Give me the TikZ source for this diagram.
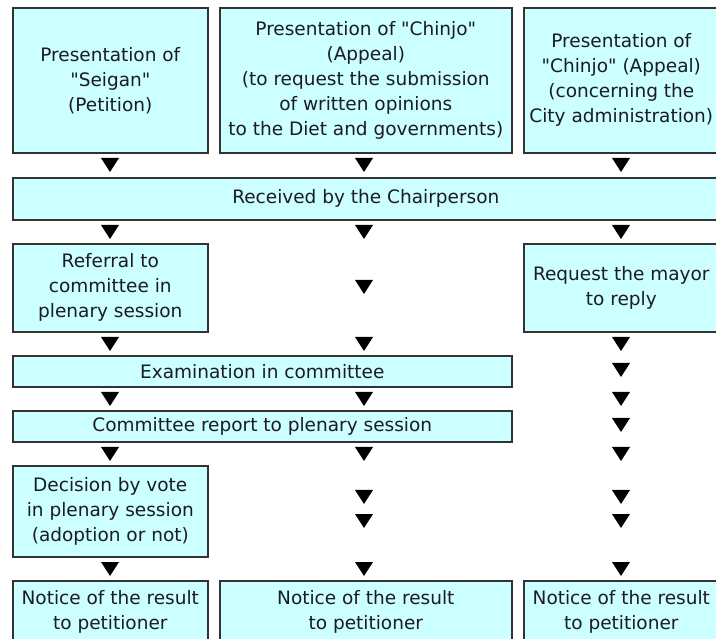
\documentclass[tikz,border=0pt]{standalone}
\usepackage{fontspec}
\setmainfont{DejaVu Sans}[Ligatures=TeXOff]
\definecolor{boxfill}{HTML}{CCFFFF}
\definecolor{boxline}{HTML}{333333}
\definecolor{txt}{HTML}{1A1A2A}
\tikzset{
  box/.style={draw=boxline, line width=1.6pt, fill=boxfill, inner sep=0pt,
    align=center, anchor=north west, text=txt,
    font=\fontsize{18.5}{25}\selectfont},
  downtri/.pic={\fill[black] (-9,0) -- (9,0) -- (0,14) -- cycle;}
}
\begin{document}
\begin{tikzpicture}[x=1pt,y=-1pt]
\useasboundingbox (0,0) rectangle (716,639);
\clip (0,0) rectangle (716,639);
\fill[white] (0,0) rectangle (716,639);
% top row
\node[box, minimum width=195, minimum height=145] (seigan) at (12,7)
  {Presentation of\\"Seigan"\\(Petition)};
\node[box, minimum width=292, minimum height=145] (chinjoA) at (219,7)
  {Presentation of "Chinjo"\\(Appeal)\\(to request the submission\\of written opinions\\to the Diet and governments)};
\node[box, minimum width=195, minimum height=145] (chinjoB) at (523,7)
  {Presentation of\\"Chinjo" (Appeal)\\(concerning the\\City administration)};
% received
\node[box, minimum width=706, minimum height=42] (recv) at (12,177)
  {Received by the Chairperson};
% third row
\node[box, minimum width=195, minimum height=88] (refer) at (12,243)
  {Referral to\\committee in\\plenary session};
\node[box, minimum width=195, minimum height=88] (mayor) at (523,243)
  {Request the mayor\\to reply};
% committee
\node[box, minimum width=499, minimum height=31] (exam) at (12,355)
  {Examination in committee};
\node[box, minimum width=499, minimum height=31] (report) at (12,410)
  {Committee report to plenary session};
% vote
\node[box, minimum width=195, minimum height=91] (vote) at (12,465)
  {Decision by vote\\in plenary session\\(adoption or not)};
% notices
\node[box, minimum width=195, minimum height=62] (noticeA) at (12,580)
  {Notice of the result\\to petitioner};
\node[box, minimum width=292, minimum height=62] (noticeB) at (219,580)
  {Notice of the result\\to petitioner};
\node[box, minimum width=195, minimum height=62] (noticeC) at (523,580)
  {Notice of the result\\to petitioner};
% arrowheads
\foreach \yy in {158,225,337,392,447,562} \pic at (110,\yy) {downtri};
\foreach \yy in {158,225,280,337,392,447,490,514,562} \pic at (364,\yy) {downtri};
\foreach \yy in {158,225,337,363,392,418,447,490,514,562} \pic at (621,\yy) {downtri};
\end{tikzpicture}
\end{document}
